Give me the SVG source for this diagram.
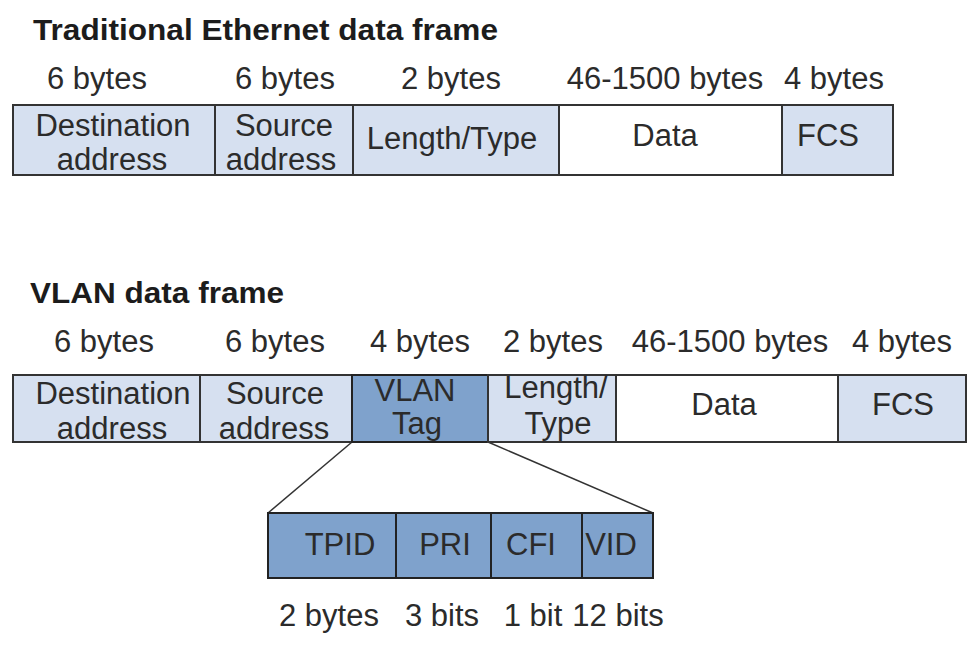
<svg xmlns="http://www.w3.org/2000/svg" width="974" height="648" viewBox="0 0 974 648">
<style>
text{font-family:"Liberation Sans",Arial,sans-serif;fill:#2b2b2b}
.t{font-size:29px;font-weight:bold;fill:#1c1c1c}
.l{font-size:31px;text-anchor:middle}
.c{font-size:31px;text-anchor:middle}
.lt{fill:#d6e0f0;stroke:#333;stroke-width:2}
.dk{fill:#7fa2cc;stroke:#222;stroke-width:2}
.wh{fill:#fff;stroke:#333;stroke-width:2}
</style>
<rect width="974" height="648" fill="#fff"/>
<text class="t" x="33" y="40" textLength="465" lengthAdjust="spacingAndGlyphs">Traditional Ethernet data frame</text>
<text class="t" x="30" y="303" textLength="254" lengthAdjust="spacingAndGlyphs">VLAN data frame</text>
<g id="top-labels">
<text class="l" x="97" y="89">6 bytes</text>
<text class="l" x="285" y="89">6 bytes</text>
<text class="l" x="451" y="89">2 bytes</text>
<text class="l" x="665" y="89">46-1500 bytes</text>
<text class="l" x="834" y="89">4 bytes</text>
</g>
<g id="t-dst"><rect class="lt" x="13" y="105" width="202" height="70"/><text class="c" x="113" y="136">Destination</text><text class="c" x="112" y="170">address</text></g>
<g id="t-src"><rect class="lt" x="215" y="105" width="138" height="70"/><text class="c" x="284" y="136">Source</text><text class="c" x="281" y="170">address</text></g>
<g id="t-len"><rect class="lt" x="353" y="105" width="206" height="70"/><text class="c" x="452" y="149">Length/Type</text></g>
<g id="t-data"><rect class="wh" x="559" y="105" width="223" height="70"/><text class="c" x="665" y="146">Data</text></g>
<g id="t-fcs"><rect class="lt" x="782" y="105" width="111" height="70"/><text class="c" x="828" y="146">FCS</text></g>
<g id="vlan-labels">
<text class="l" x="104" y="352">6 bytes</text>
<text class="l" x="275" y="352">6 bytes</text>
<text class="l" x="420" y="352">4 bytes</text>
<text class="l" x="553" y="352">2 bytes</text>
<text class="l" x="730" y="352">46-1500 bytes</text>
<text class="l" x="902" y="352">4 bytes</text>
</g>
<g id="connectors" stroke="#333" stroke-width="1.5" fill="none">
<line x1="352" y1="442" x2="268" y2="513"/>
<line x1="488" y1="442" x2="653" y2="513"/>
</g>
<g id="v-dst"><rect class="lt" x="13" y="375" width="187" height="67"/><text class="c" x="113" y="404">Destination</text><text class="c" x="112" y="439">address</text></g>
<g id="v-src"><rect class="lt" x="200" y="375" width="152" height="67"/><text class="c" x="275" y="404">Source</text><text class="c" x="274" y="439">address</text></g>
<g id="v-tag"><rect class="dk" x="352" y="375" width="136" height="67"/><text class="c" x="415" y="401">VLAN</text><text class="c" x="417" y="434">Tag</text></g>
<g id="v-len"><rect class="lt" x="488" y="375" width="128" height="67"/><text class="c" x="556" y="398">Length/</text><text class="c" x="558" y="434">Type</text></g>
<g id="v-data"><rect class="wh" x="616" y="375" width="222" height="67"/><text class="c" x="724" y="415">Data</text></g>
<g id="v-fcs"><rect class="lt" x="838" y="375" width="128" height="67"/><text class="c" x="903" y="415">FCS</text></g>
<g id="tpid"><rect class="dk" x="268" y="513" width="128" height="65"/><text class="c" x="340" y="555">TPID</text></g>
<g id="pri"><rect class="dk" x="396" y="513" width="95" height="65"/><text class="c" x="445" y="555">PRI</text></g>
<g id="cfi"><rect class="dk" x="491" y="513" width="91" height="65"/><text class="c" x="531" y="555">CFI</text></g>
<g id="vid"><rect class="dk" x="582" y="513" width="71" height="65"/><text class="c" x="611" y="555">VID</text></g>
<g id="tag-labels">
<text class="l" x="329" y="626">2 bytes</text>
<text class="l" x="442" y="626">3 bits</text>
<text class="l" x="533" y="626">1 bit</text>
<text class="l" x="618" y="626">12 bits</text>
</g>
</svg>
